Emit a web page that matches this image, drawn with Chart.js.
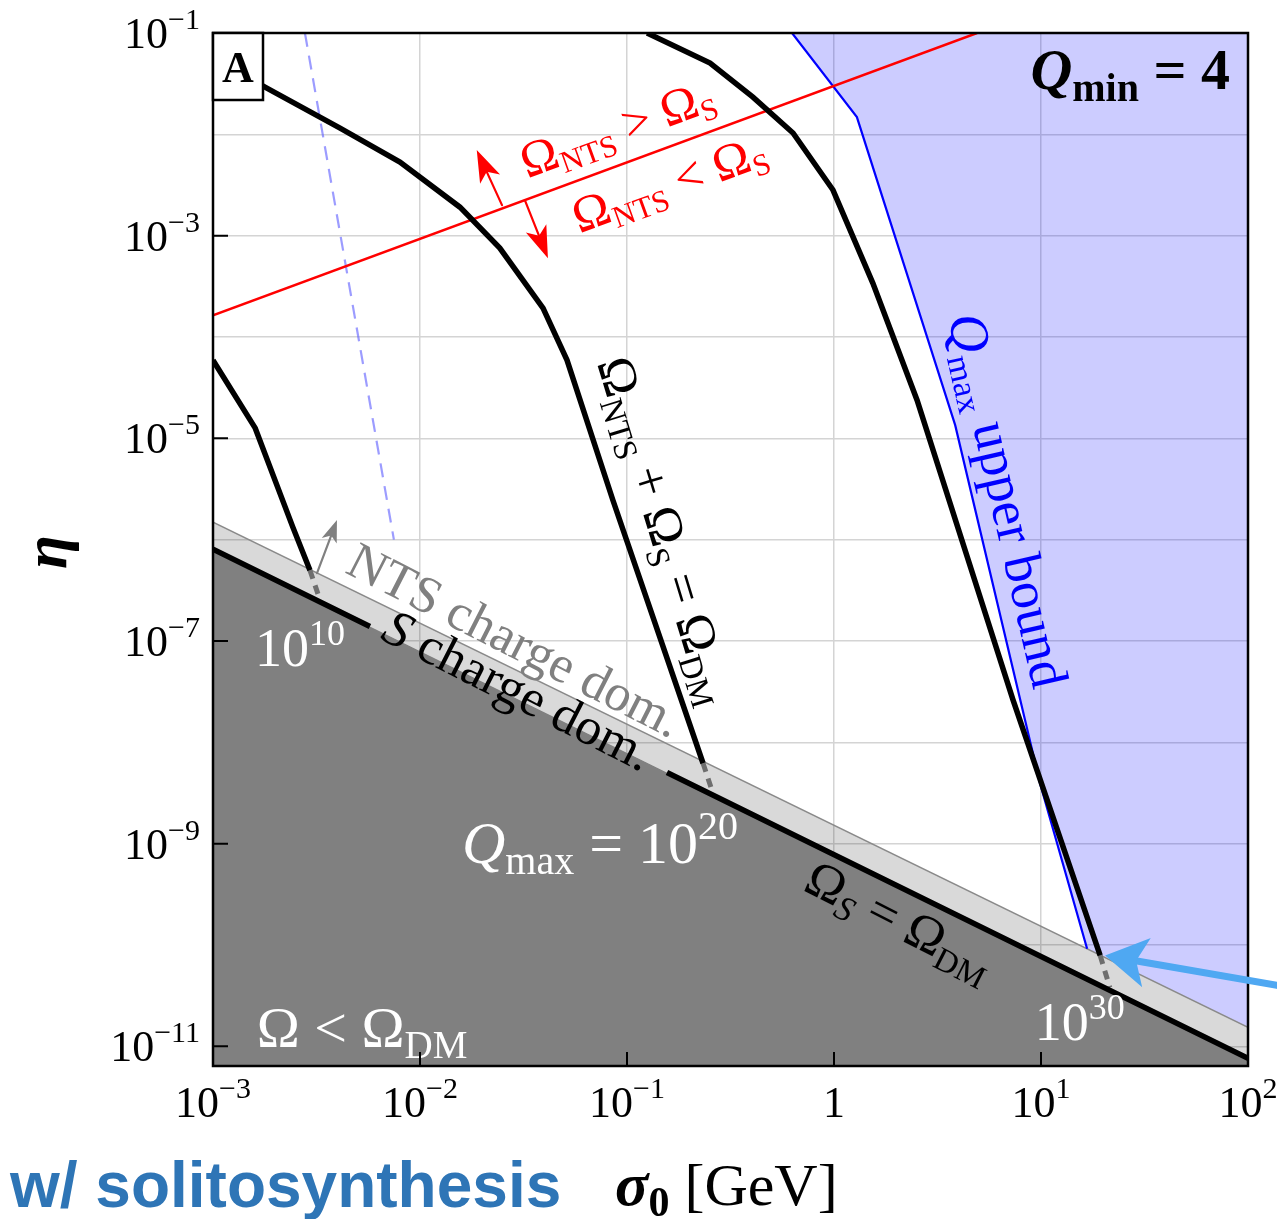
<!DOCTYPE html>
<html>
<head>
<meta charset="utf-8">
<script src="https://cdn.jsdelivr.net/npm/chart.js@4.4.1/dist/chart.umd.min.js"></script>
<style>
html, body { margin: 0; padding: 0; background: #fff; }
canvas { display: block; }
</style>
</head>
<body>
<canvas id="chart" width="1277" height="1219"></canvas>
<script>
// ---- data (sigma0 in GeV, eta) ----
const xDecades = [1e-3, 1e-2, 1e-1, 1, 1e1, 1e2];
const yDecades = [1e-11, 1e-10, 1e-9, 1e-8, 1e-7, 1e-6, 1e-5, 1e-4, 1e-3, 1e-2, 1e-1];
const xTickLabels = [['10', '−3'], ['10', '−2'], ['10', '−1'], ['1', ''], ['10', '1'], ['10', '2']];
const yTickValues = [1e-1, 1e-3, 1e-5, 1e-7, 1e-9, 1e-11];
const yTickLabels = [['10', '−1'], ['10', '−3'], ['10', '−5'], ['10', '−7'], ['10', '−9'], ['10', '−11']];

// Omega_S = Omega_DM (lower edge of light band / top of dark region)
const sigmaDM = [1e-3, 100];
const etaDM = [8.05e-7, 7.62e-12];
// visible pieces of that line (gap under "S charge dom.")
const sigmaDMLine = [1e-3, 5.73e-3, 0.03, 0.156, 100];
const etaDMLine = [8.05e-7, 1.39e-7, null, 5.05e-9, 7.62e-12];
// NTS charge domination edge (top of light band)
const sigmaNTS = [1e-3, 100];
const etaNTS = [1.49e-6, 1.54e-11];

// Omega_NTS + Omega_S = Omega_DM for Qmax = 1e10, 1e20, 1e30
const sigmaQ10 = [1e-3, 1.60e-3, 2.43e-3, 2.94e-3];
const etaQ10 = [5.9e-5, 1.26e-5, 1.33e-6, 5.0e-7];
const sigmaQ10end = [2.94e-3, 3.29e-3];
const etaQ10end = [5.0e-7, 2.53e-7];

const sigmaQ20 = [1e-3, 1.82e-3, 4.11e-3, 8.0e-3, 1.56e-2, 2.43e-2, 3.93e-2, 5.13e-2, 8.55e-2, 0.233];
const etaQ20 = [5.66e-2, 2.86e-2, 1.15e-2, 5.33e-3, 1.91e-3, 7.55e-4, 1.93e-4, 5.92e-5, 2.45e-6, 6.22e-9];
const sigmaQ20end = [0.233, 0.260];
const etaQ20end = [6.22e-9, 3.15e-9];

const sigmaQ30 = [0.125, 0.252, 0.406, 0.634, 0.989, 1.54, 2.52, 7.33, 19.3];
const etaQ30 = [0.1, 5.06e-2, 2.33e-2, 1.03e-2, 2.82e-3, 3.40e-4, 2.38e-5, 2.61e-8, 7.91e-11];
const sigmaQ30end = [19.3, 21.5];
const etaQ30end = [7.91e-11, 3.82e-11];

// Qmax upper bound
const sigmaQmax = [0.627, 1.29, 3.85, 9.89, 16.7];
const etaQmax = [0.1, 1.48e-2, 1.35e-5, 3.94e-9, 9.2e-11];

// light blue dashed line
const sigmaDash = [2.78e-3, 7.48e-3];
const etaDash = [0.1, 1e-6];

// Omega_NTS = Omega_S (red)
const sigmaRed = [1e-3, 4.91];
const etaRed = [1.64e-4, 0.1];

// arrows [tail, tip] in (sigma, eta)
const arrowRedUp = [[2.49e-2, 2.0e-3], [1.88e-2, 7.0e-3]];
const arrowRedDown = [[3.21e-2, 2.24e-3], [4.15e-2, 6.0e-4]];
const arrowGray = [[3.18e-3, 4.67e-7], [3.97e-3, 1.56e-6]];
const arrowPointer = [[138, 4.0e-11], [20.4, 7.9e-11]];

function pts(xs, ys) {
    return xs.map((x, i) => ({ x: x, y: ys[i] }));
}

const SERIF = '"Liberation Serif", "DejaVu Serif", serif';
function F(size, style) {
    return (style ? style + ' ' : '') + size + 'px ' + SERIF;
}

function line(data, color, width, extra) {
    return Object.assign({
        data: data,
        borderColor: color,
        borderWidth: width,
        pointRadius: 0,
        fill: false,
        tension: 0
    }, extra || {});
}

const datasets = [
    // 0 blue excluded region
    line(pts(sigmaQmax.concat([100]), etaQmax.concat([etaNTS[1]])), 'rgba(0,0,0,0)', 0,
        { fill: 'end', backgroundColor: 'rgba(0,0,255,0.2)', order: 20 }),
    // 1 light band
    line(pts(sigmaNTS, etaNTS), '#8a8a8a', 1.5,
        { fill: 2, backgroundColor: 'rgba(0,0,0,0.15)', order: 19 }),
    // 2 dark region
    line(pts(sigmaDM, etaDM), 'rgba(0,0,0,0)', 0,
        { fill: 'start', backgroundColor: '#808080', order: 18 }),
    line(pts(sigmaDash, etaDash), 'rgba(90,90,255,0.6)', 2.2, { borderDash: [14, 9], order: 10 }),
    line(pts(sigmaQmax, etaQmax), '#0000ff', 2.2, { order: 9 }),
    line(pts(sigmaRed, etaRed), '#ff0000', 2.5, { order: 8 }),
    line(pts(sigmaQ10end, etaQ10end), '#6e6e6e', 5, { borderDash: [9, 7], order: 7 }),
    line(pts(sigmaQ20end, etaQ20end), '#6e6e6e', 5, { borderDash: [9, 7], order: 7 }),
    line(pts(sigmaQ30end, etaQ30end), '#6e6e6e', 5, { borderDash: [9, 7], order: 7 }),
    line(pts(sigmaQ10, etaQ10), '#000', 5.5, { order: 6 }),
    line(pts(sigmaQ20, etaQ20), '#000', 5.5, { order: 6 }),
    line(pts(sigmaQ30, etaQ30), '#000', 5.5, { order: 6 }),
    line(pts(sigmaDMLine, etaDMLine), '#000', 5.5, { order: 5, spanGaps: false })
];

function rich(ctx, parts, x, y, rot, color, align) {
    ctx.save();
    ctx.translate(x, y);
    ctx.rotate(rot * Math.PI / 180);
    ctx.fillStyle = color;
    ctx.textBaseline = 'alphabetic';
    let w = 0;
    parts.forEach(p => { ctx.font = p[1]; p.w = ctx.measureText(p[0]).width; w += p.w; });
    let cx = align === 'right' ? -w : (align === 'left' ? 0 : -w / 2);
    parts.forEach(p => { ctx.font = p[1]; ctx.fillText(p[0], cx, p[2] || 0); cx += p.w; });
    ctx.restore();
}

function arrow(ctx, from, to, color, lw, hl, hw) {
    const dx = to[0] - from[0], dy = to[1] - from[1];
    const L = Math.hypot(dx, dy), ux = dx / L, uy = dy / L;
    const bx = to[0] - ux * hl, by = to[1] - uy * hl;
    ctx.save();
    ctx.strokeStyle = color;
    ctx.fillStyle = color;
    ctx.lineWidth = lw;
    ctx.lineCap = 'round';
    ctx.beginPath();
    ctx.moveTo(from[0], from[1]);
    ctx.lineTo(bx + ux * hl * 0.3, by + uy * hl * 0.3);
    ctx.stroke();
    ctx.beginPath();
    ctx.moveTo(to[0], to[1]);
    ctx.lineTo(bx - uy * hw, by + ux * hw);
    ctx.lineTo(bx + ux * hl * 0.25, by + uy * hl * 0.25);
    ctx.lineTo(bx + uy * hw, by - ux * hw);
    ctx.closePath();
    ctx.fill();
    ctx.restore();
}

// text labels placed at (sigma, eta)
const labels = [
    { at: [8.95e-2, 1.15e-2], rot: -20, color: '#ff0000',
      parts: [['Ω', F(50)], ['NTS', F(31), 8], [' > ', F(50)], ['Ω', F(50)], ['S', F(31), 8]] },
    { at: [0.160, 3.30e-3], rot: -20, color: '#ff0000',
      parts: [['Ω', F(50)], ['NTS', F(31), 8], [' < ', F(50)], ['Ω', F(50)], ['S', F(31), 8]] },
    { at: [0.154, 1.24e-6], rot: 73, color: '#000',
      parts: [['Ω', F(52)], ['NTS', F(33), 9], [' + ', F(52)], ['Ω', F(52)], ['S', F(33), 9], [' = ', F(52)], ['Ω', F(52)], ['DM', F(33), 9]] },
    { at: [6.93, 2.45e-6], rot: 77, color: '#0000ff',
      parts: [['Q', F(54, 'italic')], ['max', F(34), 10], [' upper bound', F(54)]] },
    { at: [2.88e-2, 1.02e-7], rot: 27, color: '#808080',
      parts: [['NTS charge dom.', F(52)]] },
    { at: [2.98e-2, 3.27e-8], rot: 27, color: '#000',
      parts: [['S', F(52, 'italic')], [' charge dom.', F(52)]] },
    { at: [2.63e-3, 8.5e-8], rot: 0, color: '#fff',
      parts: [['10', F(54)], ['10', F(36), -21]] },
    { at: [7.41e-2, 1.01e-9], rot: 0, color: '#fff',
      parts: [['Q', F(60, 'italic')], ['max', F(40), 11], [' = 10', F(60)], ['20', F(40), -24]] },
    { at: [15.4, 1.73e-11], rot: 0, color: '#fff',
      parts: [['10', F(54)], ['30', F(36), -21]] },
    { at: [5.25e-3, 1.51e-11], rot: 0, color: '#fff',
      parts: [['Ω < Ω', F(58)], ['DM', F(39), 11]] },
    { at: [2.08, 1.75e-10], rot: 27, color: '#000',
      parts: [['Ω', F(52)], ['S', F(35, 'italic'), 9], [' = ', F(52)], ['Ω', F(52)], ['DM', F(33), 9]] }
];

const overlay = {
    id: 'overlay',
    afterDatasetsDraw(chart) {
        const ctx = chart.ctx, a = chart.chartArea;
        const xs = chart.scales.x, ys = chart.scales.y;
        const P = (v) => [xs.getPixelForValue(v[0]), ys.getPixelForValue(v[1])];

        ctx.save();
        ctx.beginPath();
        ctx.rect(a.left, a.top, a.right - a.left, a.bottom - a.top);
        ctx.clip();
        arrow(ctx, P(arrowRedUp[0]), P(arrowRedUp[1]), '#ff0000', 2.2, 32, 11);
        arrow(ctx, P(arrowRedDown[0]), P(arrowRedDown[1]), '#ff0000', 2.2, 32, 11);
        arrow(ctx, P(arrowGray[0]), P(arrowGray[1]), '#808080', 2.2, 22, 8);
        labels.forEach(l => {
            const p = P(l.at);
            const size = parseFloat(l.parts[0][1].match(/(\d+)px/)[1]);
            const r = l.rot * Math.PI / 180;
            // shift so that the given point is the centre of the main glyphs
            const off = size * 0.33;
            rich(ctx, l.parts, p[0] - Math.sin(r) * off, p[1] + Math.cos(r) * off, l.rot, l.color, 'center');
        });
        ctx.restore();

        // frame
        ctx.save();
        ctx.strokeStyle = '#000';
        ctx.lineWidth = 2.5;
        ctx.strokeRect(a.left, a.top, a.right - a.left, a.bottom - a.top);
        // inward ticks
        ctx.lineWidth = 2;
        ctx.beginPath();
        yTickValues.forEach(v => {
            const y = ys.getPixelForValue(v);
            ctx.moveTo(a.left, y); ctx.lineTo(a.left + 15, y);
        });
        xDecades.forEach(v => {
            const x = xs.getPixelForValue(v);
            ctx.moveTo(x, a.bottom); ctx.lineTo(x, a.bottom - 14);
        });
        ctx.stroke();

        // tick labels
        xDecades.forEach((v, i) => {
            const x = xs.getPixelForValue(v);
            const lab = xTickLabels[i];
            rich(ctx, [[lab[0], F(44)], [lab[1], F(30), -19]], x, a.bottom + 51, 0, '#000', 'center');
        });
        yTickValues.forEach((v, i) => {
            const y = ys.getPixelForValue(v);
            const lab = yTickLabels[i];
            rich(ctx, [[lab[0], F(44)], [lab[1], F(30), -19]], a.left - 13, y + 15, 0, '#000', 'right');
        });

        // axis titles
        rich(ctx, [['σ', F(62, 'italic bold')], ['0', F(42, 'bold'), 11], [' [GeV]', F(60)]], 615, 1205, 0, '#000', 'left');
        rich(ctx, [['η', F(62, 'italic bold')]], 66, 552, -90, '#000', 'center');

        ctx.font = 'bold 64px "Liberation Sans", Arial, sans-serif';
        ctx.fillStyle = '#2e75b6';
        ctx.textBaseline = 'alphabetic';
        ctx.fillText('w/ solitosynthesis', 10, 1207);

        // Q_min label
        rich(ctx, [['Q', F(58, 'italic bold')], ['min', F(40, 'bold'), 12], [' = 4', F(58, 'bold')]], a.right - 18, a.top + 56, 0, '#000', 'right');

        // panel letter box
        ctx.fillStyle = '#fff';
        ctx.fillRect(a.left, a.top, 50, 67);
        ctx.lineWidth = 2.5;
        ctx.strokeRect(a.left, a.top, 50, 67);
        rich(ctx, [['A', F(44, 'bold')]], a.left + 25, a.top + 49, 0, '#000', 'center');

        // hand drawn pointer
        arrow(ctx, P(arrowPointer[0]), P(arrowPointer[1]), '#4fa8f2', 7, 42, 25);
        ctx.restore();
    }
};

new Chart(document.getElementById('chart'), {
    type: 'line',
    data: { datasets: datasets },
    options: {
        responsive: false,
        animation: false,
        layout: { padding: { left: 213, right: 29, top: 33, bottom: 153 } },
        plugins: {
            legend: { display: false },
            tooltip: { enabled: false }
        },
        scales: {
            x: {
                type: 'logarithmic',
                min: 1e-3,
                max: 100,
                ticks: { display: false },
                grid: { color: '#d4d4d4', lineWidth: 1.5, drawTicks: false },
                border: { display: false },
                afterBuildTicks: s => { s.ticks = xDecades.map(v => ({ value: v })); },
                afterFit: s => { s.height = 0; }
            },
            y: {
                type: 'logarithmic',
                min: 6.4e-12,
                max: 1e-1,
                ticks: { display: false },
                grid: { color: '#d4d4d4', lineWidth: 1.5, drawTicks: false },
                border: { display: false },
                afterBuildTicks: s => { s.ticks = yDecades.map(v => ({ value: v })); },
                afterFit: s => { s.width = 0; }
            }
        }
    },
    plugins: [overlay]
});
</script>
</body>
</html>
